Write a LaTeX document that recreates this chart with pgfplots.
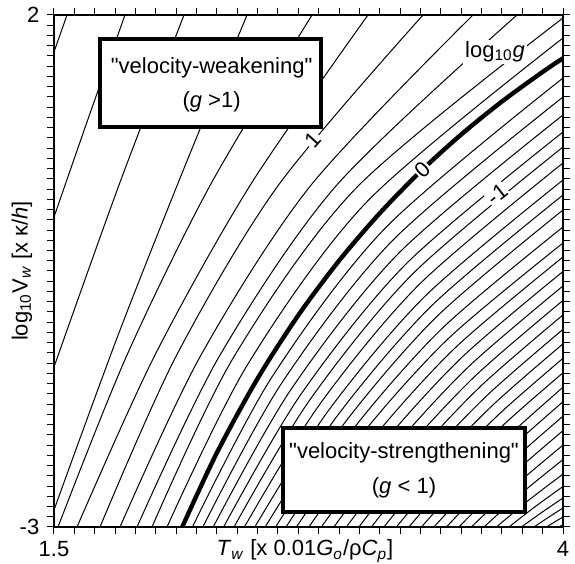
\documentclass[border=0pt]{standalone}
\usepackage{fontspec}
\setmainfont{Liberation Sans}
\newfontfamily\qf{Liberation Sans}
\usepackage{pgfplots}
\pgfplotsset{compat=1.18}
\pgfplotsset{cl/.style={black, line width=0.5pt, smooth, no marks}}
\newcommand{\q}{{\qf"}}
\begin{document}
\fontsize{11}{13}\selectfont
\begin{tikzpicture}
\begin{axis}[
  scale only axis, width=254.5pt, height=256pt,
  xmin=1.5, xmax=4, ymin=-3, ymax=2,
  xtick={1.5,4}, xticklabels={1.5,4},
  ytick={-3,2}, yticklabels={-3,2},
  minor xtick={1.6,1.7,...,3.95},
  minor ytick={-2.9,-2.8,...,1.95},
  tick align=outside, tick pos=both,
  major tick length=3.5pt, minor tick length=3.5pt,
  tick style={black, line width=0.5pt},
  axis line style={line width=1.4pt},
  tick label style={font=\fontsize{11}{13}\selectfont},
  label style={font=\fontsize{11}{13}\selectfont},
  xlabel={\textit{T}\textsubscript{\textit{w}} [x 0.01\textit{G}\textsubscript{\textit{o}}/ρ\textit{C}\textsubscript{\textit{p}}]},
  ylabel={log\textsubscript{10}V\textsubscript{\textit{w}} [x κ/\textit{h}]},
  xlabel style={at={(axis description cs:0.493,-0.047)}, anchor=center},
  ylabel style={at={(axis description cs:-0.063,0.5)}, anchor=center},
  clip mode=individual,
]
% upper-left contours
\addplot[cl] coordinates {(1.49,1.5825) (1.5,1.639) (1.5639,2) (1.5739,2.0565)};
\addplot[cl] coordinates {(1.5,0.027) (1.67,1.0) (1.8487,2)};
\addplot[cl] coordinates {(1.5,-1.4375) (1.8193,0.34) (2.1385,2)};
\addplot[cl] coordinates {(1.5,-2.834) (1.8160,-1.12) (2.1320,0.47) (2.4480,2)};
\addplot[cl] coordinates {(1.5196,-3) (1.8557,-1.3333) (2.2660,0.3333) (2.7672,2)};
\addplot[cl] coordinates {(1.6130,-3) (1.9928,-1.3333) (2.4623,0.3333) (3.0422,2)};
\addplot[cl] coordinates {(1.7259,-3) (2.0994,-1.3333) (2.6005,0.3333) (3.3124,2)};
\addplot[cl] coordinates {(1.8242,-3) (2.2185,-1.3333) (2.7603,0.3333) (3.5580,2)};
\addplot[cl] coordinates {(1.9077,-3) (2.3119,-1.3333) (2.8862,0.3333) (3.7741,2)};
\addplot[cl] coordinates {(1.9813,-3) (2.3820,-1.3431) (2.9859,0.3138) (4,1.9707)};
\addplot[cl] coordinates {(2.0550,-3) (2.4525,-1.4082) (3.0407,0.1836) (4,1.7754)};
% thick zero contour
\addplot[black, line width=2.2pt, smooth, no marks] coordinates {
(2.1297,-3) (2.3,-2.2752) (2.5,-1.55) (2.7,-0.9322) (2.9,-0.3997) (3.1,0.0642)
(3.3,0.4718) (3.5,0.8329) (3.7,1.1549) (3.9,1.4438) (4.0,1.5775)};
% lower-right contours
\addplot[cl] coordinates {(2.1798,-3) (2.5696,-1.5384) (3.1290,-0.0768) (4,1.3848)};
\addplot[cl] coordinates {(2.2308,-3) (2.6166,-1.6003) (3.1637,-0.2005) (4,1.1992)};
\addplot[cl] coordinates {(2.2819,-3) (2.6633,-1.6589) (3.1974,-0.3177) (4,1.0234)};
\addplot[cl] coordinates {(2.3330,-3) (2.7094,-1.7142) (3.2305,-0.4284) (4,0.8574)};
\addplot[cl] coordinates {(2.3841,-3) (2.7551,-1.7630) (3.2629,-0.5261) (4,0.7109)};
\addplot[cl] coordinates {(2.4352,-3) (2.8004,-1.8151) (3.2944,-0.6302) (4,0.5547)};
\addplot[cl] coordinates {(2.4863,-3) (2.8453,-1.8704) (3.3252,-0.7409) (4,0.3887)};
\addplot[cl] coordinates {(2.5373,-3) (2.8895,-1.9193) (3.3553,-0.8385) (4,0.2422)};
\addplot[cl] coordinates {(2.5884,-3) (2.9335,-1.9681) (3.3847,-0.9362) (4,0.0957)};
\addplot[cl] coordinates {(2.6395,-3) (2.9771,-2.0234) (3.4135,-1.0469) (4,-0.0703)};
\addplot[cl] coordinates {(2.6906,-3) (3.0202,-2.0755) (3.4416,-1.1511) (4,-0.2266)};
\addplot[cl] coordinates {(2.7520,-3) (3.0714,-2.1211) (3.4748,-1.2422) (4,-0.3633)};
\addplot[cl] coordinates {(2.8134,-3) (3.1222,-2.1682) (3.5069,-1.3364) (4,-0.5046)};
\addplot[cl] coordinates {(2.8748,-3) (3.1723,-2.2153) (3.5383,-1.4306) (4,-0.6459)};
\addplot[cl] coordinates {(2.9361,-3) (3.2218,-2.2624) (3.5689,-1.5248) (4,-0.7872)};
\addplot[cl] coordinates {(2.9975,-3) (3.2707,-2.3095) (3.5988,-1.6190) (4,-0.9285)};
\addplot[cl] coordinates {(3.0589,-3) (3.3192,-2.3566) (3.6279,-1.7132) (4,-1.0698)};
\addplot[cl] coordinates {(3.1203,-3) (3.3672,-2.4037) (3.6563,-1.8074) (4,-1.2111)};
\addplot[cl] coordinates {(3.1817,-3) (3.4146,-2.4508) (3.6840,-1.9016) (4,-1.3524)};
\addplot[cl] coordinates {(3.2431,-3) (3.4614,-2.4979) (3.7112,-1.9959) (4,-1.4938)};
\addplot[cl] coordinates {(3.3045,-3) (3.6191,-2.3176) (4,-1.6351)};
\addplot[cl] coordinates {(3.3659,-3) (3.6556,-2.3882) (4,-1.7764)};
\addplot[cl] coordinates {(3.4273,-3) (3.6915,-2.4589) (4,-1.9177)};
\addplot[cl] coordinates {(3.4887,-3) (3.7269,-2.5295) (4,-2.0590)};
\addplot[cl] coordinates {(3.5501,-3) (3.7617,-2.6002) (4,-2.2003)};
\addplot[cl] coordinates {(3.6115,-3) (3.7958,-2.6708) (4,-2.3416)};
\addplot[cl] coordinates {(3.6729,-3) (3.8295,-2.7415) (4,-2.4829)};
\addplot[cl] coordinates {(3.7343,-3) (3.8626,-2.8023) (4,-2.6045)};
\addplot[cl] coordinates {(3.7957,-3) (3.8952,-2.8584) (4,-2.7168)};
\addplot[cl] coordinates {(3.8571,-3) (3.9273,-2.9073) (4,-2.8145)};
\addplot[cl] coordinates {(3.9185,-3) (3.9588,-2.9512) (4,-2.9023)};
\addplot[cl] coordinates {(3.9799,-3) (4,-2.9766)};
% contour labels
\node[fill=white, inner sep=0.6pt, rotate=48] at (axis cs:2.7721,0.779) {1};
\node[fill=white, inner sep=0.6pt, rotate=44] at (axis cs:3.3124,0.486) {0};
\node[fill=white, inner sep=0.6pt, rotate=38] at (axis cs:3.676,0.25) {-1};
\node[fill=white, inner sep=1pt] at (axis cs:3.666,1.6387) {log\textsubscript{10}\textit{g}};
% boxes
\draw[line width=2pt, fill=white] (axis cs:1.7259,0.9063) rectangle (axis cs:2.8114,1.7656);
\node at (axis cs:2.2741,1.4824) {\q velocity-weakening\q};
\node at (axis cs:2.2741,1.1504) {(\textit{g} >1)};
\draw[line width=2pt, fill=white] (axis cs:2.6248,-2.8535) rectangle (axis cs:3.8134,-2.0332);
\node at (axis cs:3.2191,-2.2773) {\q velocity-strengthening\q};
\node at (axis cs:3.2191,-2.6191) {(\textit{g} < 1)};
\coordinate (bl) at (rel axis cs:0,0);
\coordinate (tr) at (rel axis cs:1,1);
\end{axis}
\pgfresetboundingbox
\path[use as bounding box] ([xshift=-27pt,yshift=-18.5pt]bl) rectangle ([xshift=6pt,yshift=7.5pt]tr);
\end{tikzpicture}
\end{document}
